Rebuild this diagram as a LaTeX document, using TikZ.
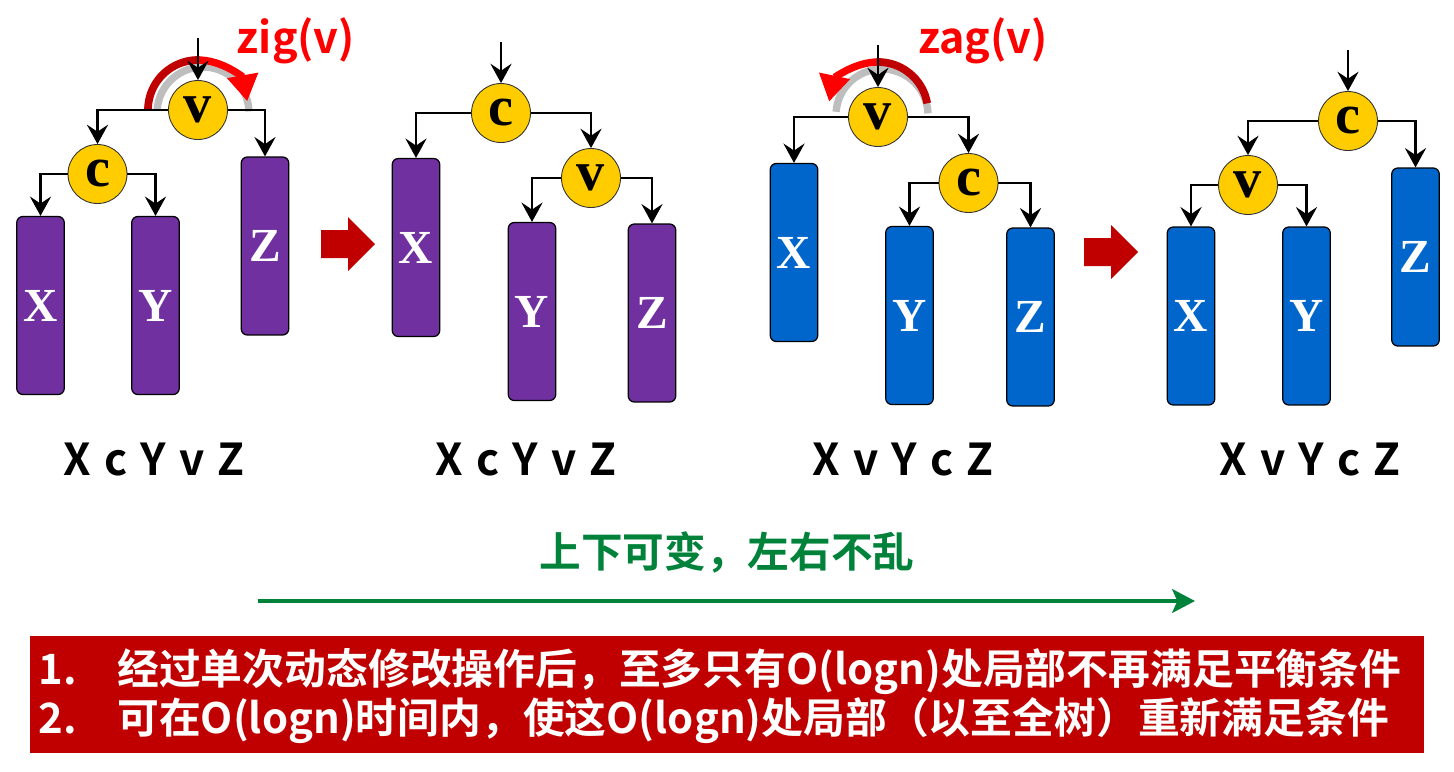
\documentclass[tikz,border=0pt]{standalone}
\usepackage{fontspec}
\newfontfamily\cjk{Noto Sans CJK SC}[BoldFont={Noto Sans CJK SC Bold}]
\newfontfamily\tnr{Liberation Serif}
\usetikzlibrary{arrows.meta}
\definecolor{purp}{HTML}{7030A0}
\definecolor{blu}{RGB}{0,102,204}
\definecolor{yel}{HTML}{FFCC00}
\definecolor{dred}{HTML}{C00000}
\definecolor{bred}{HTML}{FF0000}
\definecolor{grn}{RGB}{0,130,58}
\definecolor{shadow}{RGB}{190,190,190}
\newcommand\gapx{\hspace{0.3em}}
\begin{document}
\begin{tikzpicture}[x=0.02cm,y=-0.02cm,
  nd/.style={circle,draw=black!80,line width=0.5pt,fill=yel,minimum size=1.18cm,inner sep=0pt,
    font=\tnr\bfseries\fontsize{32}{32}\selectfont},
  bx/.style={draw=black,line width=0.7pt,rounded corners=0.12cm,minimum width=0.95cm,
    minimum height=3.56cm,inner sep=0pt,text=white,font=\tnr\bfseries\fontsize{27}{27}\selectfont},
  pbox/.style={bx,fill=purp},
  bbox/.style={bx,fill=blu},
  conn/.style={draw,line width=1.6pt,-{Stealth[length=11pt,width=12pt,inset=4pt]}},
  seq/.style={anchor=base,inner sep=0pt,font=\cjk\bfseries\fontsize{25}{25}\selectfont},
  rot/.style={anchor=base,inner sep=0pt,text=bred,font=\cjk\bfseries\fontsize{24.5}{25}\selectfont},
  shd/.style={draw=shadow,line width=4.2pt},
  rdk/.style={draw=dred,line width=4.4pt},
  rbr/.style={draw=bred,line width=4.2pt,-{Triangle[length=15pt,width=17pt]}},
  blk/.style={fill=dred,draw=none},
  note/.style={anchor=base west,inner sep=0pt,text=white,font=\cjk\bfseries\fontsize{23.8}{24}\selectfont}
]
\useasboundingbox (0,0) rectangle (1454,771);

% ---------------- panel 1: zig before ----------------
\draw[shd] (203,113) ++(184:46) arc[start angle=184,end angle=358,radius=46];
\draw[rdk] (198,110) ++(180:50) arc[start angle=180,end angle=272,radius=50];
\draw[rbr] (198,110) ++(270:50) arc[start angle=270,end angle=350,radius=50];
\node[rot] (zig) at (296,53) {zig(v)};

\node[nd] (v1) at (198,110) {v};
\node[nd] (c1) at (97.5,174) {c};
\node[pbox] (X1) at (40.5,305.5) {X};
\node[pbox] (Y1) at (155.5,305.5) {Y};
\node[pbox] (Z1) at (265,246) {Z};
\coordinate (in1) at (198,38);
\draw[conn] (in1) -- (v1.north);
\draw[conn] (v1.west) -| (c1.north);
\draw[conn] (v1.east) -| (Z1.north);
\draw[conn] (c1.west) -| (X1.north);
\draw[conn] (c1.east) -| (Y1.north);
\node[seq] (s1) at (154,475) {X\gapx c\gapx Y\gapx v\gapx Z};

% block arrow 1
\fill[blk] (321,230) -- (348,230) -- (348,217) -- (375,244) -- (348,271) -- (348,258) -- (321,258) -- cycle;

% ---------------- panel 2: zig after ----------------
\node[nd] (c2) at (501,113) {c};
\node[pbox] (X2) at (416,247.5) {X};
\node[nd] (v2) at (591,178) {v};
\node[pbox] (Y2) at (532,311.5) {Y};
\node[pbox] (Z2) at (652,313) {Z};
\coordinate (in2) at (501,42);
\draw[conn] (in2) -- (c2.north);
\draw[conn] (c2.west) -| (X2.north);
\draw[conn] (c2.east) -| (v2.north);
\draw[conn] (v2.west) -| (Y2.north);
\draw[conn] (v2.east) -| (Z2.north);
\node[seq] (s2) at (526,475) {X\gapx c\gapx Y\gapx v\gapx Z};

% ---------------- panel 3: zag before ----------------
\draw[shd] (882,115) ++(-2:46) arc[start angle=-2,end angle=-176,radius=46];
\draw[rdk] (878,112) ++(-10:50) arc[start angle=-10,end angle=-92,radius=50];
\draw[rbr] (878,112) ++(-90:50) arc[start angle=-90,end angle=-168,radius=50];
\node[rot] (zag) at (983,53) {zag(v)};

\node[nd] (v3) at (878,117) {v};
\node[bbox] (X3) at (794,252.5) {X};
\node[nd] (c3) at (968.5,183) {c};
\node[bbox] (Y3) at (909.5,315.5) {Y};
\node[bbox] (Z3) at (1030.5,317) {Z};
\coordinate (in3) at (878,45);
\draw[conn] (in3) -- (v3.north);
\draw[conn] (v3.west) -| (X3.north);
\draw[conn] (v3.east) -| (c3.north);
\draw[conn] (c3.west) -| (Y3.north);
\draw[conn] (c3.east) -| (Z3.north);
\node[seq] (s3) at (903,475) {X\gapx v\gapx Y\gapx c\gapx Z};

% block arrow 2
\fill[blk] (1084,238) -- (1111,238) -- (1111,225) -- (1138,252) -- (1111,279) -- (1111,266) -- (1084,266) -- cycle;

% ---------------- panel 4: zag after ----------------
\node[nd] (c4) at (1348,121) {c};
\node[nd] (v4) at (1248,185) {v};
\node[bbox] (X4) at (1191,316) {X};
\node[bbox] (Y4) at (1306.5,316) {Y};
\node[bbox] (Z4) at (1415.5,257) {Z};
\coordinate (in4) at (1348,50);
\draw[conn] (in4) -- (c4.north);
\draw[conn] (c4.west) -| (v4.north);
\draw[conn] (c4.east) -| (Z4.north);
\draw[conn] (v4.west) -| (X4.north);
\draw[conn] (v4.east) -| (Y4.north);
\node[seq] (s4) at (1310,475) {X\gapx v\gapx Y\gapx c\gapx Z};

% ---------------- green motto ----------------
\node[anchor=base,inner sep=0pt,text=grn,font=\cjk\bfseries\fontsize{23.7}{24}\selectfont] (motto) at (727,567) {上下可变，左右不乱};
\coordinate (gs) at (258,601);
\coordinate (ge) at (1195,601);
\draw[draw=grn,line width=2.3pt,-{Stealth[length=13pt,width=13.5pt,inset=3pt]}] (gs) -- (ge);

% ---------------- red banner ----------------
\fill[dred] (30,636) rectangle (1424,753);
\node[note] (n1) at (38,684) {1.};
\node[note] (t1) at (117,684) {经过单次动态修改操作后，至多只有O(logn)处局部不再满足平衡条件};
\node[note] (n2) at (38,733) {2.};
\node[note] (t2) at (117,733) {可在O(logn)时间内，使这O(logn)处局部（以至全树）重新满足条件};
\end{tikzpicture}
\end{document}
